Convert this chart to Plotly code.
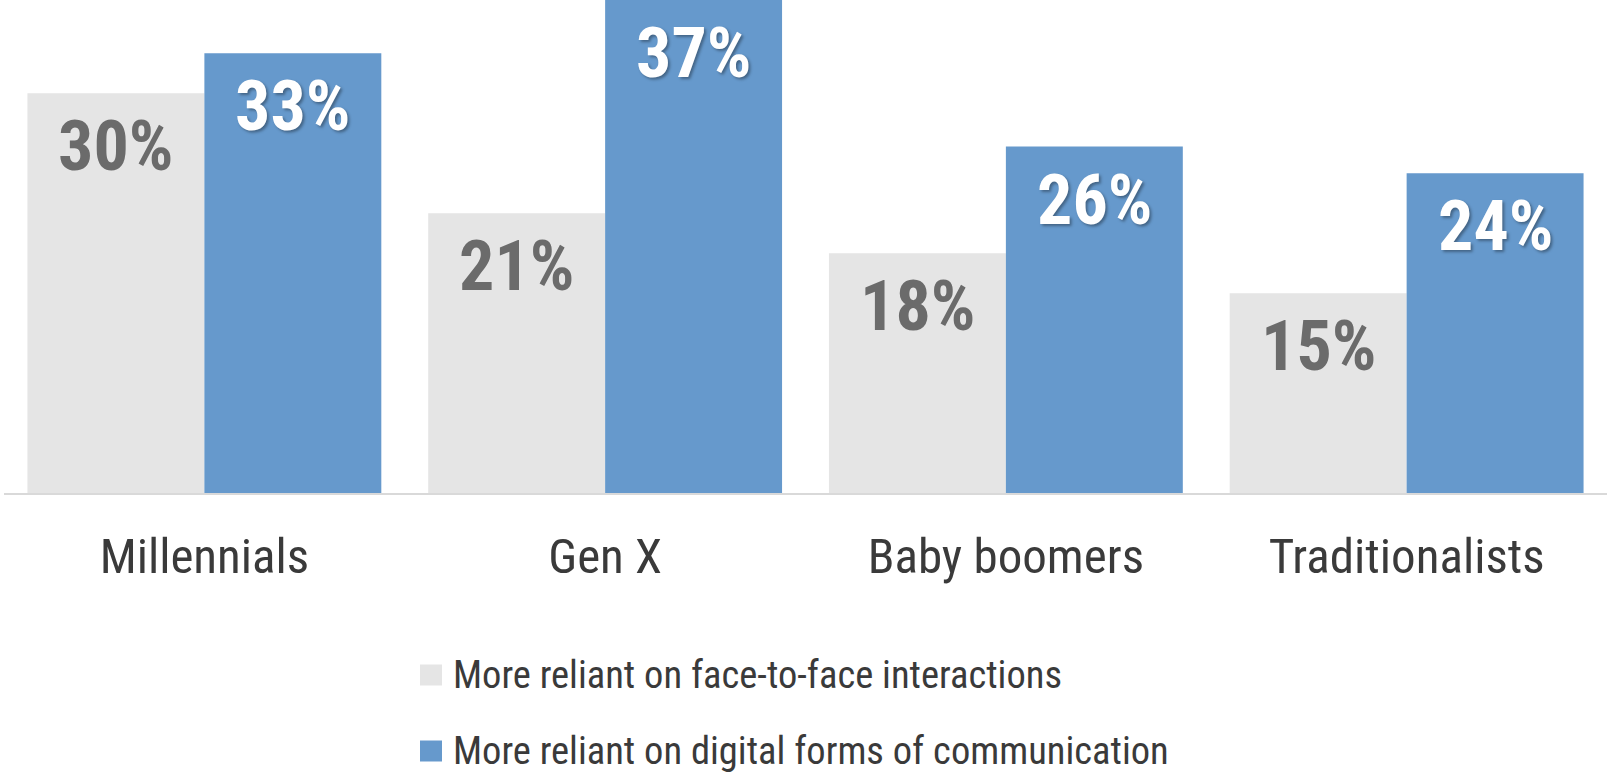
import plotly.graph_objects as go

# Survey results by generation (percent of respondents)
generations = ["Millennials", "Gen X", "Baby boomers", "Traditionalists"]
face_to_face = [30, 21, 18, 15]
digital = [33, 37, 26, 24]
series_names = [
    "More reliant on face-to-face interactions",
    "More reliant on digital forms of communication",
]

GREY = "#E5E5E5"
BLUE = "#6699CC"
GREY_TEXT = "#6B6B6B"
DARK_TEXT = "#3A3A3A"
NARROW = "Liberation Sans Narrow, Arial Narrow, Roboto Condensed, sans-serif"

W, H = 1607, 774
PLOT_L, PLOT_T, PLOT_B = 4, 0, 493
BARGAP = 0.117
Y_MAX = 37

fig = go.Figure()
fig.add_trace(go.Bar(x=generations, y=face_to_face, name=series_names[0],
                     marker=dict(color=GREY, line=dict(width=0)), showlegend=False))
fig.add_trace(go.Bar(x=generations, y=digital, name=series_names[1],
                     marker=dict(color=BLUE, line=dict(width=0)), showlegend=False))

# value labels sit inside the top of each bar
offset = (1 - BARGAP) / 4
annotations = []
for i, (a, b) in enumerate(zip(face_to_face, digital)):
    annotations.append(dict(
        x=i - offset, y=a, xref="x", yref="y", text=f"{a}%", showarrow=False,
        yanchor="top", yshift=-10,
        font=dict(family=NARROW, size=70, color=GREY_TEXT, weight="bold")))
    annotations.append(dict(
        x=i + offset, y=b, xref="x", yref="y", text=f"{b}%", showarrow=False,
        yanchor="top", yshift=-10,
        font=dict(family=NARROW, size=70, color="white", weight="bold",
                  shadow="2px 2px 3px rgba(0,0,0,0.35)")))

# legend drawn as swatches + labels below the axis
plot_w = W - PLOT_L
plot_h = PLOT_B - PLOT_T
def px_x(px):
    return (px - PLOT_L) / plot_w
def px_y(py):
    return (PLOT_B - py) / plot_h

shapes = []
for name, color, cy in zip(series_names, [GREY, BLUE], [675, 751]):
    shapes.append(dict(type="rect", xref="paper", yref="paper",
                       x0=px_x(420), x1=px_x(442), y0=px_y(cy + 10.5), y1=px_y(cy - 10.5),
                       fillcolor=color, line=dict(width=0)))
    annotations.append(dict(
        x=px_x(452), y=px_y(cy - 1), xref="paper", yref="paper", text=name,
        showarrow=False, xanchor="left", yanchor="middle", borderpad=0,
        font=dict(family=NARROW, size=38.5, color=DARK_TEXT)))

fig.update_layout(
    width=W, height=H,
    margin=dict(l=PLOT_L, r=0, t=PLOT_T, b=H - PLOT_B, pad=0),
    paper_bgcolor="white", plot_bgcolor="white",
    barmode="group", bargap=BARGAP, bargroupgap=0,
    showlegend=False,
    annotations=annotations, shapes=shapes,
    xaxis=dict(showline=True, linecolor="#D9D9D9", linewidth=2, ticks="",
               showgrid=False, zeroline=False,
               tickfont=dict(family=NARROW, size=49, color=DARK_TEXT),
               ticklabelstandoff=19),
    yaxis=dict(range=[0, Y_MAX], visible=False, showgrid=False, zeroline=False),
)

fig.write_html("out.html")
